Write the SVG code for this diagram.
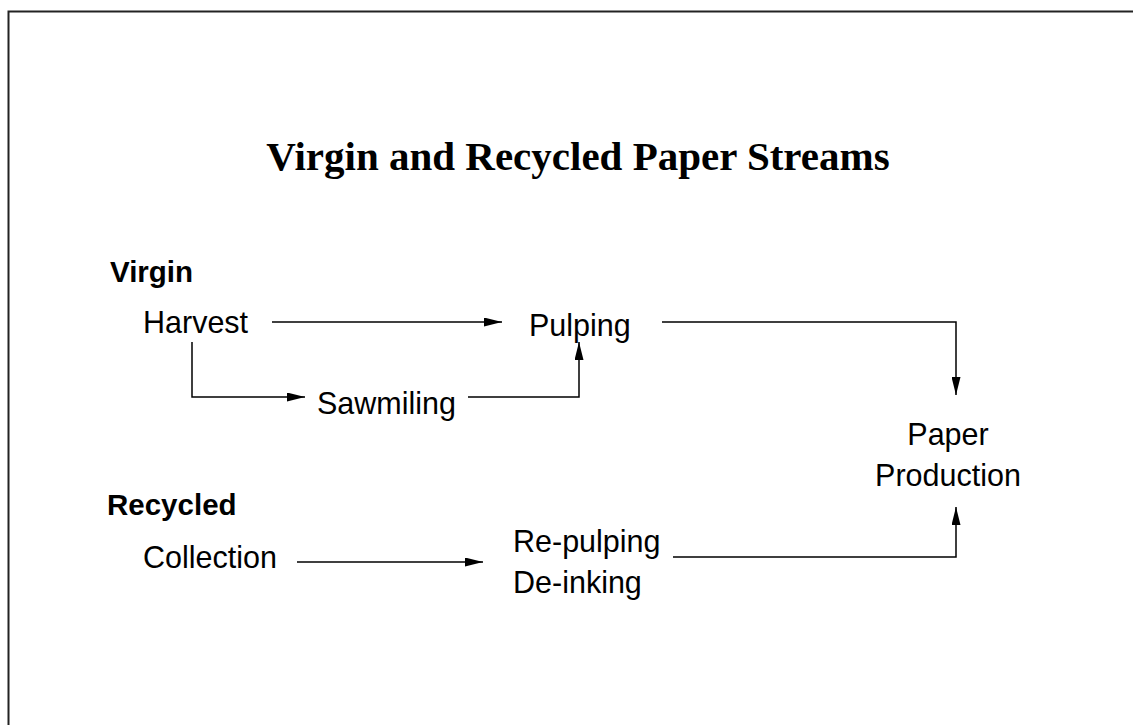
<svg xmlns="http://www.w3.org/2000/svg" width="1133" height="725" viewBox="0 0 1133 725">
<style>
.t{font-family:"Liberation Sans",Arial,sans-serif;font-size:30.5px;fill:#000}
.b{font-family:"Liberation Sans",Arial,sans-serif;font-size:29.5px;font-weight:bold;fill:#000}
.title{font-family:"Liberation Serif","Times New Roman",serif;font-size:41px;font-weight:bold;fill:#000}
.c{fill:none;stroke:#000;stroke-width:1.5}
</style>
<defs>
<marker id="ah" viewBox="0 0 18 9" refX="18" refY="4.5" markerWidth="18" markerHeight="9" markerUnits="userSpaceOnUse" orient="auto">
<path d="M0,0 L18,4.5 L0,9 Z" fill="#000"/>
</marker>
</defs>
<rect width="1133" height="725" fill="#fff"/>
<path d="M8.5,725 V11.5 H1133" fill="none" stroke="#222" stroke-width="2"/>
<text class="title" x="578" y="170" text-anchor="middle">Virgin and Recycled Paper Streams</text>
<g id="label-virgin"><text class="b" x="110" y="282">Virgin</text></g>
<g id="label-recycled"><text class="b" x="107" y="515">Recycled</text></g>
<g id="harvest"><text class="t" x="143" y="333">Harvest</text></g>
<g id="pulping"><text class="t" x="529" y="336">Pulping</text></g>
<g id="sawmiling"><text class="t" x="317" y="414">Sawmiling</text></g>
<g id="paper-production"><text class="t" x="948" y="445" text-anchor="middle">Paper</text><text class="t" x="948" y="486" text-anchor="middle">Production</text></g>
<g id="collection"><text class="t" x="143" y="568">Collection</text></g>
<g id="repulping"><text class="t" x="513" y="552">Re-pulping</text><text class="t" x="513" y="593">De-inking</text></g>
<g id="connectors">
<path class="c" d="M272,322 H502" marker-end="url(#ah)"/>
<path class="c" d="M192,342 V397 H305" marker-end="url(#ah)"/>
<path class="c" d="M468,397 H579 V342" marker-end="url(#ah)"/>
<path class="c" d="M662,322 H956 V395" marker-end="url(#ah)"/>
<path class="c" d="M297,562 H483" marker-end="url(#ah)"/>
<path class="c" d="M673,557 H956 V507" marker-end="url(#ah)"/>
</g>
</svg>
